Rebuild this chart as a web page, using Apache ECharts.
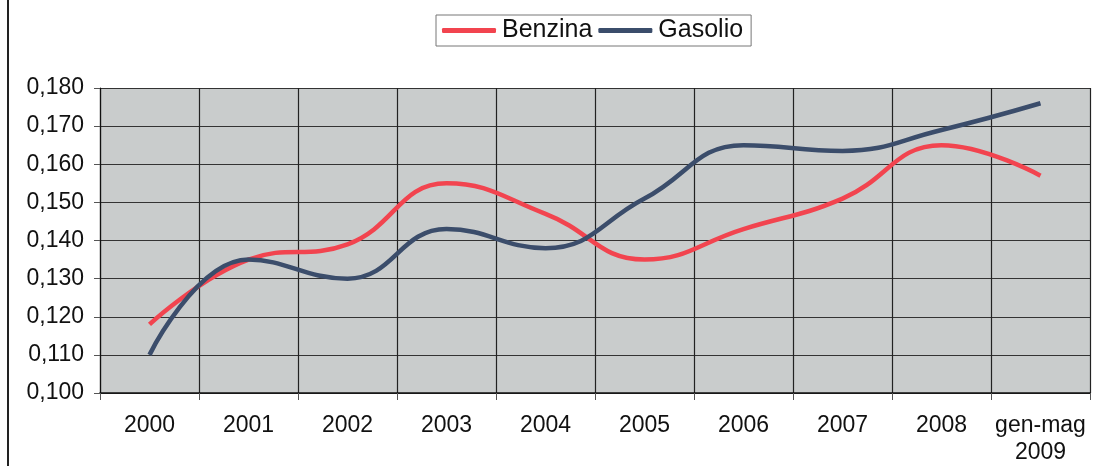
<!DOCTYPE html>
<html>
<head>
<meta charset="utf-8">
<script src="https://cdn.jsdelivr.net/npm/echarts@6/dist/echarts.min.js"></script>
<style>
  html, body { margin: 0; padding: 0; background: #fff; }
  #chart { width: 1093px; height: 466px; }
</style>
</head>
<body>
<div id="chart"></div>
<script>
const years = ['2000', '2001', '2002', '2003', '2004', '2005', '2006', '2007', '2008', 'gen-mag\n2009'];
const benzina = [0.118, 0.135, 0.139, 0.155, 0.147, 0.135, 0.143, 0.151, 0.165, 0.157];
const gasolio = [0.110, 0.135, 0.130, 0.143, 0.138, 0.151, 0.165, 0.1635, 0.169, 0.176];

const chart = echarts.init(document.getElementById('chart'));

const font = 'Liberation Sans, Arial, sans-serif';

chart.setOption({
  backgroundColor: '#fff',
  animation: false,
  legend: {
    top: 15,
    left: 436,
    padding: [3, 8, 3, 6],
    borderColor: '#777',
    borderWidth: 1,
    itemWidth: 54,
    itemHeight: 5,
    itemGap: 6,
    icon: 'roundRect',
    textStyle: { fontFamily: font, fontSize: 25, color: '#111', padding: [0, 0, 0, 1] },
    data: ['Benzina', 'Gasolio']
  },
  grid: {
    left: 100,
    right: 3,
    top: 88,
    bottom: 73,
    show: true,
    backgroundColor: '#c9cccc',
    borderWidth: 0
  },
  xAxis: {
    type: 'category',
    data: years,
    boundaryGap: true,
    axisLine: { lineStyle: { color: '#111', width: 1.5 } },
    axisTick: { show: true, length: 7, lineStyle: { color: '#555' } },
    splitLine: { show: true, lineStyle: { color: '#222', width: 1.2 } },
    axisLabel: {
      fontFamily: font, fontSize: 23, color: '#111', margin: 19, lineHeight: 27,
      interval: 0
    }
  },
  yAxis: {
    type: 'value',
    min: 0.100,
    max: 0.180,
    interval: 0.010,
    axisLine: { show: true, lineStyle: { color: '#111', width: 1.2 } },
    axisTick: { show: true, length: 6, lineStyle: { color: '#555' } },
    splitLine: { show: true, lineStyle: { color: '#333', width: 1 } },
    axisLabel: {
      fontFamily: font, fontSize: 23, color: '#111', margin: 16,
      formatter: function (v) { return v.toFixed(3).replace('.', ','); }
    }
  },
  series: [
    {
      name: 'Benzina',
      type: 'line',
      data: benzina,
      smooth: 0.45,
      symbol: 'none',
      color: '#f2444f',
      lineStyle: { width: 4.5, color: '#f2444f' }
    },
    {
      name: 'Gasolio',
      type: 'line',
      data: gasolio,
      smooth: 0.45,
      symbol: 'none',
      color: '#3b4d6b',
      lineStyle: { width: 4.5, color: '#3b4d6b' }
    }
  ],
  graphic: [
    {
      type: 'line',
      shape: { x1: 8, y1: 0, x2: 8, y2: 466 },
      style: { stroke: '#222', lineWidth: 2 }
    }
  ]
});
</script>
</body>
</html>
